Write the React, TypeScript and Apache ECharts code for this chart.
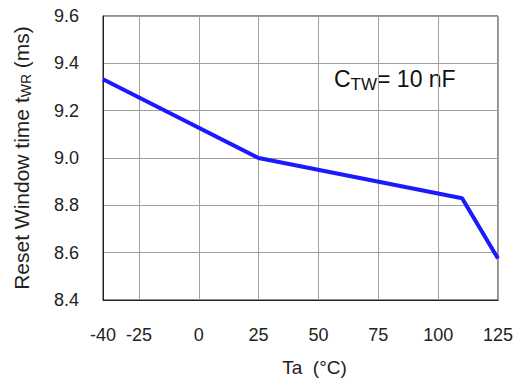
import React, { useEffect, useRef } from "react";
import * as echarts from "echarts";

const xTicks = [-40, -25, 0, 25, 50, 75, 100, 125];
const temps = [-40, 25, 110, 125];
const resetTimes = [9.333, 9.0, 8.83, 8.575];
const yMin = 8.4;
const yMax = 9.6;
const yStep = 0.2;

const FONT = "'Liberation Sans', Arial, sans-serif";

export default function App() {
  const ref = useRef<HTMLDivElement>(null);
  useEffect(() => {
    document.body.style.margin = "0";
    if (!ref.current) return;
    const chart = echarts.init(ref.current, null, { renderer: "svg" });
    chart.setOption({
      animation: false,
      backgroundColor: "#ffffff",
      grid: {
        left: 103,
        right: 28,
        top: 16,
        bottom: 81,
        show: true,
        borderColor: "#222",
        borderWidth: 1,
        backgroundColor: "transparent",
        outerBoundsMode: "none",
        containLabel: false,
      },
      xAxis: {
        type: "value",
        min: -40,
        max: 125,
        name: "Ta  (°C)",
        nameLocation: "middle",
        nameGap: 58,
        nameMoveOverlap: false,
        nameTextStyle: {
          fontFamily: FONT,
          fontSize: 19,
          color: "#222",
          padding: [0, 0, 0, 28],
        },
        axisLine: { show: true, onZero: false, lineStyle: { color: "#222", width: 1 } },
        axisTick: { show: false, customValues: xTicks },
        axisLabel: {
          customValues: xTicks,
          fontFamily: FONT,
          fontSize: 18,
          color: "#222",
          margin: 26,
        },
        splitLine: { show: true, lineStyle: { color: "#a0a0a0", width: 1 } },
      },
      yAxis: {
        type: "value",
        min: yMin,
        max: yMax,
        interval: yStep,
        name: "{a|Reset Window time t}{b|WR}{a| (ms)}",
        nameLocation: "middle",
        nameGap: 70,
        nameRotate: 90,
        nameMoveOverlap: false,
        nameTextStyle: {
          rich: {
            a: { fontFamily: FONT, fontSize: 21, color: "#222" },
            b: {
              fontFamily: FONT,
              fontSize: 14,
              color: "#222",
              padding: [9, 0, 0, 0],
            },
          },
        },
        axisLine: { show: true, onZero: false, lineStyle: { color: "#222", width: 1 } },
        axisTick: { show: false },
        axisLabel: {
          fontFamily: FONT,
          fontSize: 18,
          color: "#222",
          margin: 24,
          formatter: (v: number) => v.toFixed(1),
        },
        splitLine: { show: true, lineStyle: { color: "#a0a0a0", width: 1 } },
      },
      graphic: [
        {
          type: "text",
          left: 334,
          top: 67,
          style: {
            text: "{c|C}{s|TW}{c|= 10 nF}",
            rich: {
              c: { fontFamily: FONT, fontSize: 23, fill: "#111" },
              s: {
                fontFamily: FONT,
                fontSize: 17,
                fill: "#111",
                padding: [11, 0, 0, 0],
              },
            },
          },
        },
      ],
      series: [
        {
          type: "line",
          data: temps.map((t, i) => [t, resetTimes[i]]),
          showSymbol: false,
          symbol: "none",
          lineStyle: { color: "#1a1aff", width: 4 },
          clip: true,
        },
      ],
    });
    return () => chart.dispose();
  }, []);
  return <div ref={ref} style={{ width: 526, height: 381 }} />;
}
